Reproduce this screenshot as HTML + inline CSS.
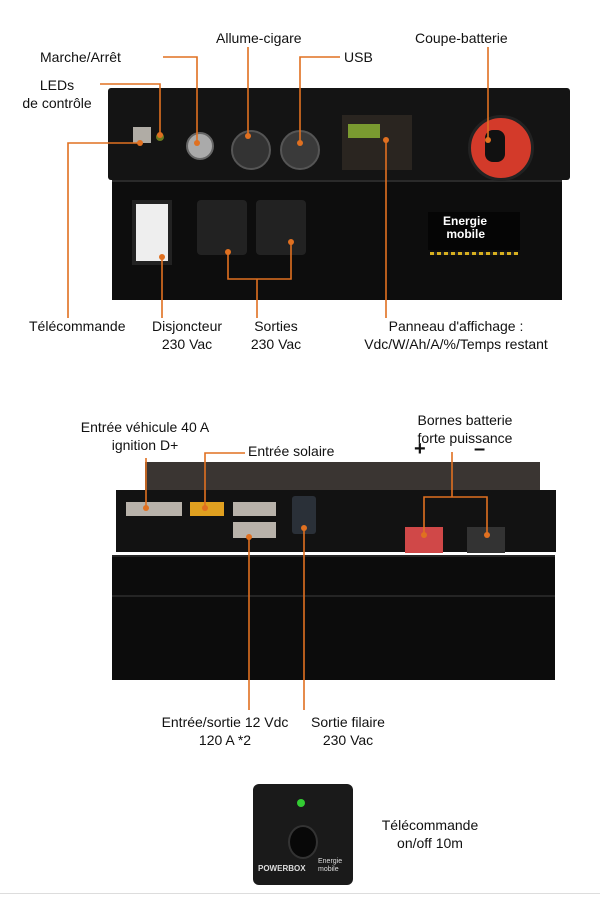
<!DOCTYPE html>
<html><head><meta charset="utf-8"><style>
body{margin:0;width:600px;height:900px;background:#fff;position:relative;overflow:hidden;font-family:"Liberation Sans",sans-serif;color:#111}
.t{position:absolute;font-size:14px;line-height:18px;white-space:nowrap}
.c{text-align:center}
.a{position:absolute}
</style></head><body>
<!-- top device -->
<div class="a" style="left:108px;top:88px;width:462px;height:92px;background:#141414;border-radius:3px"></div>
<div class="a" style="left:112px;top:180px;width:450px;height:118px;background:#0d0d0d;border-top:2px solid #2a2a2a"></div>
<div class="a" style="left:133px;top:127px;width:18px;height:16px;background:#b0aca5"></div>
<div class="a" style="left:156px;top:133px;width:8px;height:8px;border-radius:50%;background:#6a7a20"></div>
<div class="a" style="left:186px;top:132px;width:24px;height:24px;border-radius:50%;background:#aaa;border:2px solid #666"></div>
<div class="a" style="left:231px;top:130px;width:36px;height:36px;border-radius:50%;background:#333;border:2px solid #555"></div>
<div class="a" style="left:280px;top:130px;width:36px;height:36px;border-radius:50%;background:#3a3a3a;border:2px solid #555"></div>
<div class="a" style="left:342px;top:115px;width:70px;height:55px;background:#2a2520"></div>
<div class="a" style="left:348px;top:124px;width:32px;height:14px;background:#7a9a30"></div>
<div class="a" style="left:468px;top:115px;width:60px;height:60px;border-radius:50%;background:#d33a2a;border:3px solid #222"></div>
<div class="a" style="left:485px;top:130px;width:20px;height:32px;border-radius:8px;background:#111"></div>
<div class="a" style="left:132px;top:200px;width:32px;height:57px;background:#eee;border:4px solid #222"></div>
<div class="a" style="left:197px;top:200px;width:50px;height:55px;background:#222;border-radius:4px"></div>
<div class="a" style="left:256px;top:200px;width:50px;height:55px;background:#222;border-radius:4px"></div>
<div class="a" style="left:428px;top:212px;width:92px;height:38px;background:#050505"></div>
<div class="t" style="left:443px;top:215px;color:#fff;font-weight:bold;font-size:12px;line-height:13px">Energie<br>&nbsp;mobile</div>
<div class="a" style="left:430px;top:252px;width:88px;height:3px;background:repeating-linear-gradient(90deg,#d8b020 0 4px,#222 4px 7px)"></div>
<!-- bottom device -->
<div class="a" style="left:145px;top:462px;width:395px;height:28px;background:#3a3532"></div>
<div class="a" style="left:116px;top:490px;width:440px;height:62px;background:#121212"></div>
<div class="a" style="left:112px;top:555px;width:443px;height:123px;background:#0c0c0c;border-top:2px solid #252525"></div>
<div class="a" style="left:112px;top:595px;width:443px;height:2px;background:#252525"></div>
<div class="a" style="left:126px;top:502px;width:56px;height:14px;background:#b8b2aa"></div>
<div class="a" style="left:190px;top:502px;width:34px;height:14px;background:#e0a020"></div>
<div class="a" style="left:233px;top:502px;width:43px;height:14px;background:#b8b2aa"></div>
<div class="a" style="left:233px;top:522px;width:43px;height:16px;background:#b8b2aa"></div>
<div class="a" style="left:292px;top:496px;width:24px;height:38px;background:#2a3038;border-radius:3px"></div>
<div class="a" style="left:405px;top:527px;width:38px;height:26px;background:#d04848"></div>
<div class="a" style="left:467px;top:527px;width:38px;height:26px;background:#333"></div>
<!-- remote -->
<div class="a" style="left:253px;top:784px;width:100px;height:101px;background:#1a1a1a;border-radius:6px"></div>
<div class="a" style="left:297px;top:799px;width:8px;height:8px;border-radius:50%;background:#3c3"></div>
<div class="a" style="left:288px;top:825px;width:26px;height:30px;border-radius:50%;background:#080808;border:2px solid #333"></div>
<div class="t" style="left:258px;top:860px;color:#ddd;font-size:8px;font-weight:bold">POWERBOX</div>
<div class="t" style="left:318px;top:858px;color:#ddd;font-size:7px;line-height:8px">Energie<br>mobile</div>
<div class="a" style="left:0;top:893px;width:600px;height:1px;background:#ddd"></div>
<!-- lines -->
<svg class="a" style="left:0;top:0" width="600" height="900">
<g stroke="#e07020" stroke-width="1.6" fill="none">
<polyline points="163,57 197,57 197,143"/>
<polyline points="100,84 160,84 160,135"/>
<polyline points="68,318 68,143 140,143"/>
<line x1="248" y1="47" x2="248" y2="136"/>
<polyline points="340,57 300,57 300,143"/>
<line x1="488" y1="47" x2="488" y2="140"/>
<line x1="386" y1="140" x2="386" y2="318"/>
<line x1="162" y1="257" x2="162" y2="318"/>
<polyline points="228,252 228,279 291,279 291,242"/>
<line x1="257" y1="279" x2="257" y2="318"/>
<line x1="146" y1="458" x2="146" y2="508"/>
<polyline points="245,453 205,453 205,508"/>
<polyline points="424,535 424,497 487,497 487,535"/>
<line x1="452" y1="452" x2="452" y2="497"/>
<line x1="249" y1="537" x2="249" y2="710"/>
<line x1="304" y1="528" x2="304" y2="710"/>
</g>
<g fill="#e07020">
<circle cx="197" cy="143" r="3"/><circle cx="160" cy="135" r="3"/><circle cx="140" cy="143" r="3"/>
<circle cx="248" cy="136" r="3"/><circle cx="300" cy="143" r="3"/><circle cx="488" cy="140" r="3"/>
<circle cx="386" cy="140" r="3"/><circle cx="162" cy="257" r="3"/><circle cx="228" cy="252" r="3"/>
<circle cx="291" cy="242" r="3"/><circle cx="146" cy="508" r="3"/><circle cx="205" cy="508" r="3"/>
<circle cx="424" cy="535" r="3"/><circle cx="487" cy="535" r="3"/><circle cx="249" cy="537" r="3"/>
<circle cx="304" cy="528" r="3"/>
</g>
</svg>
<!-- labels -->
<div class="t" style="left:40px;top:48px">Marche/Arrêt</div>
<div class="t c" style="left:18px;top:76px;width:78px">LEDs<br>de contrôle</div>
<div class="t" style="left:216px;top:29px">Allume-cigare</div>
<div class="t" style="left:344px;top:48px">USB</div>
<div class="t" style="left:415px;top:29px">Coupe-batterie</div>
<div class="t" style="left:29px;top:317px">Télécommande</div>
<div class="t c" style="left:142px;top:317px;width:90px">Disjoncteur<br>230 Vac</div>
<div class="t c" style="left:236px;top:317px;width:80px">Sorties<br>230 Vac</div>
<div class="t c" style="left:336px;top:317px;width:240px">Panneau d'affichage :<br>Vdc/W/Ah/A/%/Temps restant</div>
<div class="t c" style="left:50px;top:418px;width:190px">Entrée véhicule 40 A<br>ignition D+</div>
<div class="t" style="left:248px;top:442px">Entrée solaire</div>
<div class="t c" style="left:400px;top:411px;width:130px">Bornes batterie<br>forte puissance</div>
<div class="t" style="left:414px;top:440px;font-size:20px;font-weight:bold">+</div>
<div class="t" style="left:474px;top:440px;font-size:20px;font-weight:bold">–</div>
<div class="t c" style="left:150px;top:713px;width:150px">Entrée/sortie 12 Vdc<br>120 A *2</div>
<div class="t c" style="left:300px;top:713px;width:96px">Sortie filaire<br>230 Vac</div>
<div class="t c" style="left:370px;top:816px;width:120px">Télécommande<br>on/off 10m</div>
</body></html>
